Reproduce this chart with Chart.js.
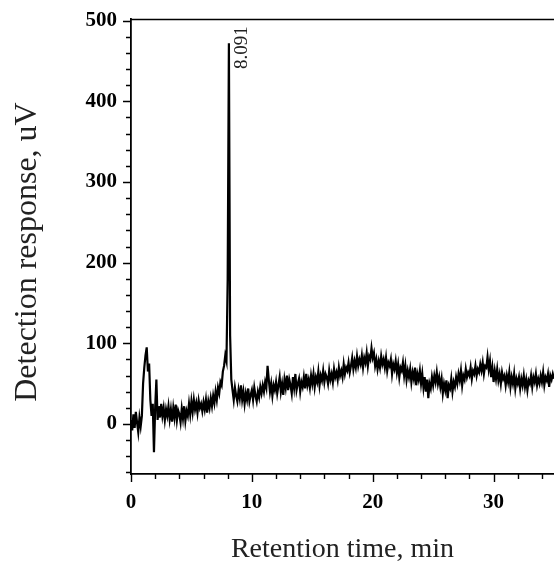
<!DOCTYPE html>
<html>
<head>
<meta charset="utf-8">
<script src="https://cdn.jsdelivr.net/npm/chart.js@4.4.1/dist/chart.umd.min.js"></script>
<style>
  html, body { margin: 0; padding: 0; background: #fff; }
  canvas { display: block; }
</style>
</head>
<body>
<canvas id="myChart" width="554" height="566"></canvas>
<script>
// detector trace, one reading every 0.1 min from 0 to 35 min
var sampleStep = 0.1;
var response = [
  5, -8, 12, -5, 15, 2, -10, 8, -3, 10,        // 0
  50, 70, 85, 95, 65, 75, 30, 10, 25, -35,     // 1
  20, 55, 5, 22, 8, 25, 10, 20, 5, 18,         // 2
  10, 22, 6, 18, 3, 20, 8, 24, 5, 17,          // 3
  12, 2, 19, 7, 22, 4, 16, 10, 25, 12,         // 4
  28, 15, 30, 18, 26, 14, 29, 20, 25, 16,      // 5
  27, 18, 30, 14, 28, 20, 32, 22, 35, 26,      // 6
  40, 30, 45, 38, 52, 48, 65, 72, 85, 78,      // 7
  180, 472, 110, 55, 42, 30, 45, 35, 28, 42,   // 8
  32, 48, 30, 40, 25, 38, 30, 44, 28, 36,      // 9
  42, 30, 45, 35, 28, 40, 33, 46, 38, 48,      // 10
  40, 52, 45, 72, 55, 40, 50, 35, 48, 42,      // 11
  52, 38, 48, 58, 40, 50, 36, 55, 45, 60,      // 12
  42, 55, 48, 38, 58, 45, 62, 42, 50, 56,      // 13
  40, 52, 46, 58, 44, 62, 48, 55, 45, 60,      // 14
  50, 62, 46, 58, 52, 65, 48, 60, 54, 66,      // 15
  52, 62, 58, 50, 66, 55, 62, 52, 68, 58,      // 16
  64, 55, 70, 60, 66, 58, 74, 62, 70, 66,      // 17
  76, 64, 72, 82, 68, 78, 70, 84, 72, 80,      // 18
  74, 85, 70, 82, 76, 88, 72, 84, 80, 94,      // 19
  82, 88, 72, 80, 68, 78, 70, 84, 74, 80,      // 20
  70, 82, 66, 76, 72, 80, 62, 74, 68, 78,      // 21
  64, 74, 58, 70, 66, 76, 60, 72, 55, 66,      // 22
  58, 68, 52, 64, 56, 70, 48, 62, 55, 66,      // 23
  50, 62, 45, 58, 40, 55, 32, 50, 44, 58,      // 24
  48, 60, 52, 64, 50, 58, 46, 56, 38, 50,      // 25
  42, 54, 32, 48, 44, 56, 40, 52, 46, 58,      // 26
  50, 62, 54, 66, 48, 60, 55, 68, 58, 64,      // 27
  60, 70, 56, 66, 62, 72, 60, 68, 64, 74,      // 28
  66, 76, 62, 72, 70, 83, 68, 78, 58, 70,      // 29
  52, 66, 56, 68, 54, 62, 50, 64, 56, 60,      // 30
  48, 60, 52, 64, 46, 58, 50, 62, 44, 56,      // 31
  50, 58, 44, 56, 48, 60, 46, 55, 42, 54,      // 32
  50, 60, 46, 58, 52, 62, 48, 56, 50, 60,      // 33
  52, 64, 48, 58, 54, 62, 46, 60, 55, 62,      // 34
  56
];

var xTicks = [0, 10, 20, 30];
var yTicks = [0, 100, 200, 300, 400, 500];
var peakTime = 8.091;
var peakHeight = 472;
var peakLabel = "8.091";

var xTitle = "Retention time, min";
var yTitle = "Detection response, uV";

var points = [];
for (var i = 0; i < response.length; i++) {
	points.push({ x: Math.round(i * sampleStep * 10) / 10, y: response[i] });
}

var serif = '"Liberation Serif", "Times New Roman", serif';

// minor/major tick marks, top border, titles and the peak label
var decorations = {
	id: "decorations",
	afterDraw: function(chart) {
		var ctx = chart.ctx;
		var area = chart.chartArea;
		var xs = chart.scales.x;
		var ys = chart.scales.y;
		ctx.save();
		ctx.strokeStyle = "#000";
		ctx.lineWidth = 1.4;
		ctx.beginPath();
		for (var v = -60; v <= 500; v += 20) {
			var py = Math.round(ys.getPixelForValue(v)) + 0.5;
			var len = (v % 100 === 0) ? 8 : 5;
			ctx.moveTo(area.left - len, py);
			ctx.lineTo(area.left, py);
		}
		for (var t = 0; t <= 34; t += 2) {
			var px = Math.round(xs.getPixelForValue(t)) + 0.5;
			var len2 = (t % 10 === 0) ? 8 : 5;
			ctx.moveTo(px, area.bottom);
			ctx.lineTo(px, area.bottom + len2);
		}
		// top frame line
		ctx.moveTo(area.left, area.top + 0.5);
		ctx.lineTo(area.right, area.top + 0.5);
		ctx.stroke();

		ctx.fillStyle = "#222";
		// x title
		ctx.font = "28px " + serif;
		ctx.textAlign = "center";
		ctx.textBaseline = "alphabetic";
		ctx.fillText(xTitle, (area.left + area.right) / 2, 557);
		// y title
		ctx.save();
		ctx.translate(28, 252);
		ctx.rotate(-Math.PI / 2);
		ctx.font = "32px " + serif;
		ctx.textBaseline = "middle";
		ctx.fillText(yTitle, 0, 0);
		ctx.restore();
		// peak label
		ctx.save();
		ctx.translate(xs.getPixelForValue(peakTime) + 13, ys.getPixelForValue(peakHeight) - 17);
		ctx.rotate(-Math.PI / 2);
		ctx.font = "19px " + serif;
		ctx.textAlign = "right";
		ctx.textBaseline = "middle";
		ctx.fillText(peakLabel, 0, 0);
		ctx.restore();
		ctx.restore();
	}
};

var myChart = document.getElementById("myChart").getContext("2d");
var chart = new Chart(myChart, {
	type: "line",
	data: {
		datasets: [
			{
				label: "trace",
				data: points,
				borderColor: "#000",
				borderWidth: 2.2,
				pointRadius: 0,
				tension: 0,
				fill: false
			}
		]
	},
	options: {
		responsive: false,
		animation: false,
		layout: { padding: { top: 19, right: 0, left: 0, bottom: 0 } },
		plugins: {
			legend: { display: false },
			tooltip: { enabled: false }
		},
		scales: {
			x: {
				type: "linear",
				min: 0,
				max: 35,
				grid: { display: false },
				border: { display: true, color: "#000", width: 1.8 },
				afterBuildTicks: function(scale) {
					scale.ticks = xTicks.map(function(v) { return { value: v }; });
				},
				afterFit: function(scale) { scale.height = 92; },
				ticks: {
					color: "#000",
					padding: 8,
					maxRotation: 0,
					font: { family: serif, size: 21, weight: "bold" }
				}
			},
			y: {
				type: "linear",
				min: -62,
				max: 502,
				grid: { display: false },
				border: { display: true, color: "#000", width: 1.8 },
				afterBuildTicks: function(scale) {
					scale.ticks = yTicks.map(function(v) { return { value: v }; });
				},
				afterFit: function(scale) { scale.width = 131; },
				ticks: {
					color: "#000",
					padding: 6,
					font: { family: serif, size: 21, weight: "bold" }
				}
			}
		}
	},
	plugins: [decorations]
});
</script>
</body>
</html>
